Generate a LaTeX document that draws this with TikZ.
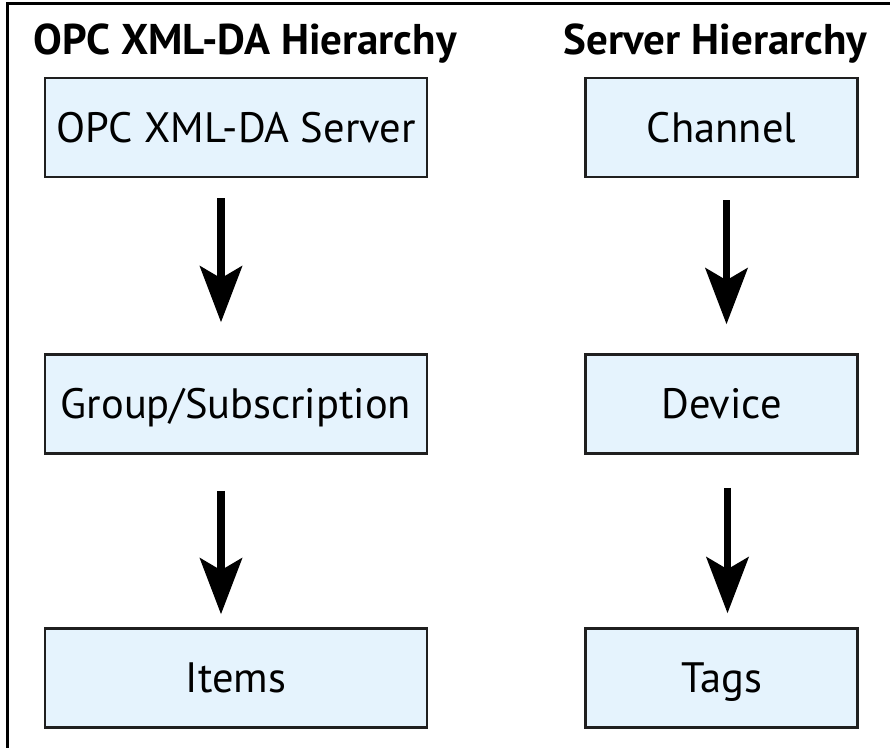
\documentclass[tikz,border=0pt]{standalone}
\usepackage{fontspec}
\setmainfont{PT Sans}
\usetikzlibrary{arrows.meta}
\definecolor{boxblue}{HTML}{E5F3FD}
\begin{document}
\begin{tikzpicture}[x = 1pt, y = -1pt,
        level/.style = {draw = black!88, line width = 2.5pt, fill = boxblue, inner sep = 0pt,
            minimum height = 99pt, text height = 29pt, text depth = 0pt, font = \fontsize{42.5}{50}\selectfont},
        wide/.style = {level, minimum width = 382pt},
        narrow/.style = {level, minimum width = 272pt},
        title/.style = {anchor = base, font = \fontsize{43}{50}\selectfont\bfseries},
        down/.style = {line width = 7.5pt, -{Stealth[length = 56pt, width = 42pt, inset = 12pt]}}]
        \useasboundingbox (0, 0) rectangle (890, 748);
        \draw[line width = 3pt] (890, 3) -- (7, 3) -- (7, 748);
        % headings
        \node[title] (opch) at (245, 54) {OPC XML-DA Hierarchy};
        \node[title] (srvh) at (715.5, 54) {Server Hierarchy};
        % left column
        \node[wide] (opc) at (236, 127.5) {OPC XML-DA Server};
        \node[wide] (group) at (236, 404) {Group/Subscription};
        \node[wide] (items) at (236, 678) {Items};
        % right column
        \node[narrow] (chan) at (721.5, 127.5) {Channel};
        \node[narrow] (dev) at (721.5, 404) {Device};
        \node[narrow] (tags) at (721.5, 678) {Tags};
        % arrows
        \draw[down, shorten <= 20pt, shorten >= 31pt] ([xshift = -15pt]opc.south) -- ([xshift = -15pt]group.north);
        \draw[down, shorten <= 36pt, shorten >= 13pt] ([xshift = -15pt]group.south) -- ([xshift = -15pt]items.north);
        \draw[down, shorten <= 22pt, shorten >= 29pt] ([xshift = 5pt]chan.south) -- ([xshift = 5pt]dev.north);
        \draw[down, shorten <= 33pt, shorten >= 14pt] ([xshift = 6pt]dev.south) -- ([xshift = 6pt]tags.north);
    \end{tikzpicture}
\end{document}
